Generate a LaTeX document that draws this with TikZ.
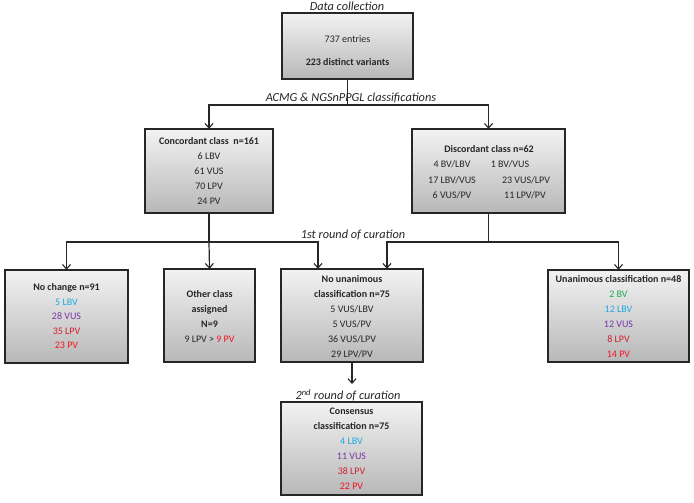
\documentclass[tikz,border=0pt]{standalone}
\usepackage{fontspec}
\setmainfont{Carlito}
\usetikzlibrary{arrows.meta,shadows}
\definecolor{cLBV}{HTML}{1FA9E1}
\definecolor{cVUS}{HTML}{7A35A8}
\definecolor{cLPV}{HTML}{D11F2E}
\definecolor{cPV}{HTML}{F5141E}
\definecolor{cBV}{HTML}{1AAE55}
\definecolor{txt}{HTML}{262626}
\tikzset{
  box/.style={draw=black!85, line width=1.1pt, top color=black!5, bottom color=black!28,
    drop shadow={shadow xshift=1.2pt, shadow yshift=-1.2pt, opacity=0.25}},
  content/.style={align=center, inner sep=0pt, text=txt,
    font=\fontsize{10}{15}\selectfont},
  lbl/.style={inner sep=0pt, text=txt, font=\fontsize{12.3}{14}\selectfont\itshape},
  conn/.style={line width=1.2pt, draw=black!85},
  arr/.style={conn, -{Straight Barb[length=4.5pt,width=8pt,line width=1.1pt]}}
}
\begin{document}
\begin{tikzpicture}[x=1pt,y=-1pt]
\useasboundingbox[fill=white] (0,0) rectangle (694,503);

% boxes
\path[box] (282,13) rectangle (413,79);
\node[minimum width=131pt, minimum height=66pt, inner sep=0pt] (top) at (347.5,46) {};
\path[box] (145,129) rectangle (273,213);
\node[minimum width=128pt, minimum height=84pt, inner sep=0pt] (conc) at (209,171) {};
\path[box] (412,129) rectangle (565,213);
\node[minimum width=153pt, minimum height=84pt, inner sep=0pt] (disc) at (488.5,171) {};
\path[box] (5,270) rectangle (128,363);
\node[minimum width=123pt, minimum height=93pt, inner sep=0pt] (nochange) at (66.5,316.5) {};
\path[box] (164,269) rectangle (255,362);
\node[minimum width=91pt, minimum height=93pt, inner sep=0pt] (other) at (209.5,315.5) {};
\path[box] (281,269) rectangle (423,362);
\node[minimum width=142pt, minimum height=93pt, inner sep=0pt] (nounan) at (352,315.5) {};
\path[box] (548,270) rectangle (689,362);
\node[minimum width=141pt, minimum height=92pt, inner sep=0pt] (unan) at (618.5,316) {};
\path[box] (281,402) rectangle (422,495);
\node[minimum width=141pt, minimum height=93pt, inner sep=0pt] (cons) at (351.5,448.5) {};

% contents
\node[content, font=\fontsize{10}{23}\selectfont] (topt) at (347.5,50.5) {737 entries\\\textbf{223 distinct variants}};
\node[content] (conct) at (209,171) {\textbf{Concordant class\ \ n=161}\\6 LBV\\61 VUS\\70 LPV\\24 PV};
\node[content] (disct) at (489,149) {\textbf{Discordant class n=62}};
\node[content] (d1) at (452,164) {4 BV/LBV};
\node[content] (d2) at (510,164) {1 BV/VUS};
\node[content] (d3) at (452,180) {17 LBV/VUS};
\node[content] (d4) at (526,180) {23 VUS/LPV};
\node[content] (d5) at (452,195) {6 VUS/PV};
\node[content] (d6) at (525,195) {11 LPV/PV};
\node[content, font=\fontsize{10}{14.5}\selectfont] (nochanget) at (66.5,316.5) {\textbf{No change n=91}\\\textcolor{cLBV}{5 LBV}\\\textcolor{cVUS}{28 VUS}\\\textcolor{cLPV}{35 LPV}\\\textcolor{cPV}{23 PV}};
\node[content] (othert) at (209.5,316.5) {\textbf{Other class}\\\textbf{assigned}\\\textbf{N=9}\\9 LPV > \textcolor{cPV}{9 PV}};
\node[content] (nounant) at (352,317) {\textbf{No unanimous}\\\textbf{classification n=75}\\5 VUS/LBV\\5 VUS/PV\\36 VUS/LPV\\29 LPV/PV};
\node[content] (unant) at (618.5,316) {\textbf{Unanimous classification n=48}\\\textcolor{cBV}{2 BV}\\\textcolor{cLBV}{12 LBV}\\\textcolor{cVUS}{12 VUS}\\\textcolor{cLPV}{8 LPV}\\\textcolor{cPV}{14 PV}};
\node[content] (const) at (351.5,448.5) {\textbf{Consensus}\\\textbf{classification n=75}\\\textcolor{cLBV}{4 LBV}\\\textcolor{cVUS}{11 VUS}\\\textcolor{cLPV}{38 LPV}\\\textcolor{cPV}{22 PV}};

% labels
\node[lbl] (l0) at (347,6) {Data collection};
\node[lbl] (l1) at (351,98) {ACMG \& NGSnPPGL classifications};
\node[lbl] (l2) at (353,235) {1st round of curation};
\node[lbl] (l3) at (348,395) {2\textsuperscript{nd} round of curation};

% connectors
\coordinate (j1) at (347.5,105);
\coordinate (j2) at (209,242);
\coordinate (j3) at (488.5,242);
\coordinate (j4) at (352,384);
\draw[conn] (top.south) -- (j1);
\draw[arr] (j1) -| (conc.north);
\draw[arr] (j1) -| (disc.north);
\draw[conn] (conc.south) -- (j2);
\draw[arr] (j2) -| (nochange.north);
\draw[arr] (j2) -- (other.north);
\draw[arr] (j2) -| (318,0 |- nounan.north);
\draw[conn] (disc.south) -- (j3);
\draw[arr] (j3) -| (387,0 |- nounan.north);
\draw[arr] (j3) -| (unan.north);
\draw[arr] (nounan.south) -- (j4);
\end{tikzpicture}
\end{document}
